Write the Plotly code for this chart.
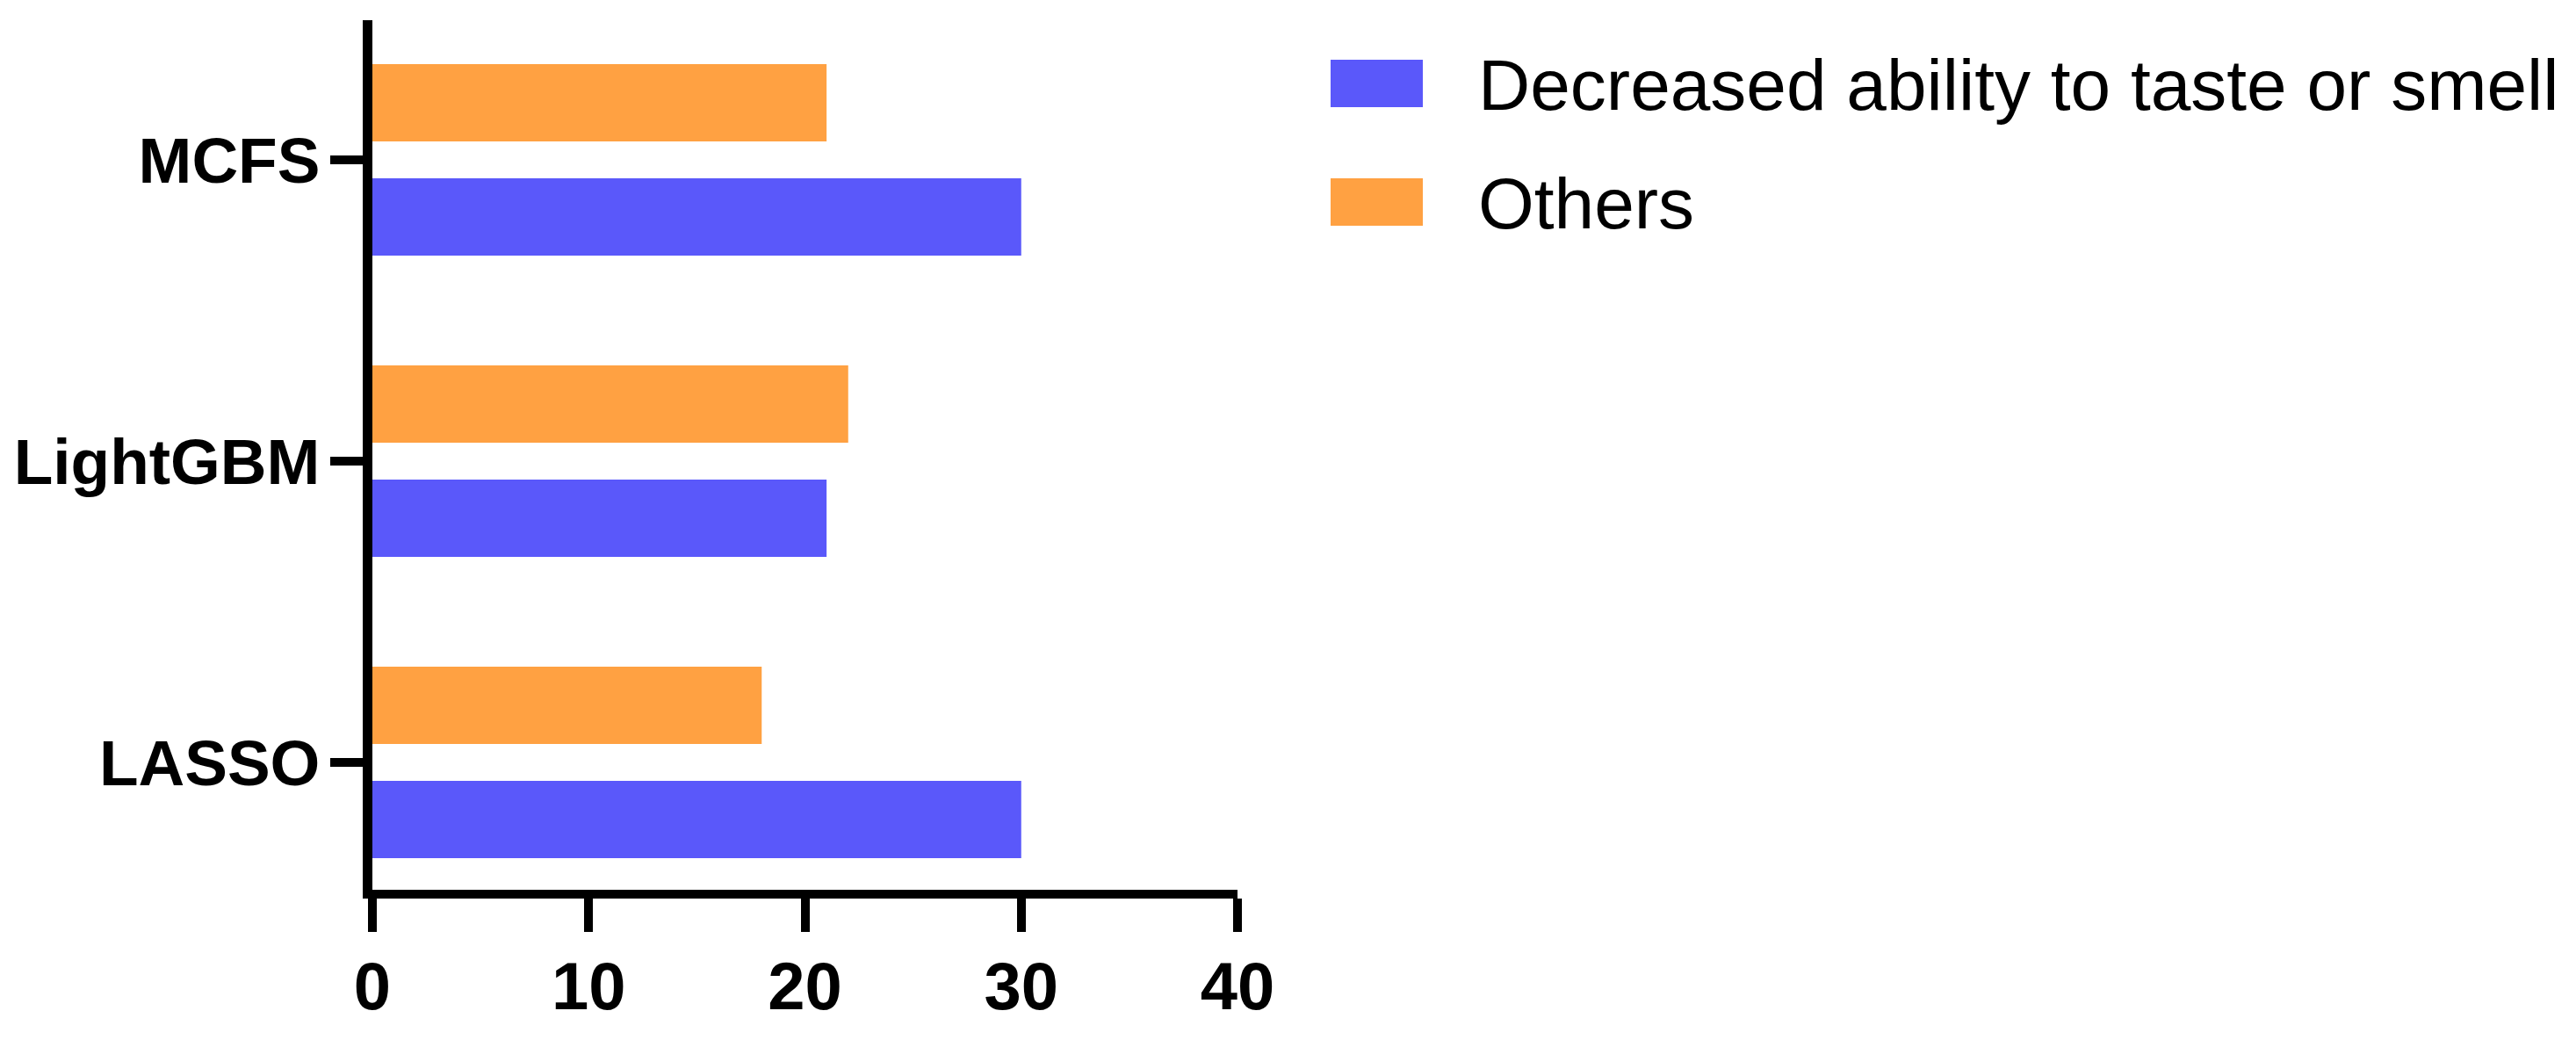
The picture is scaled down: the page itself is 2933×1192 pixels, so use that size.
import plotly.graph_objects as go

# ---- data ----
categories = ["LASSO", "LightGBM", "MCFS"]
series_names = ["Decreased ability to taste or smell", "Others"]
decreased_values = [30, 21, 30]
others_values = [18, 22, 21]
x_tick_values = [0, 10, 20, 30, 40]
x_tick_labels = ["0", "10", "20", "30", "40"]

BLUE = "#5A58FA"
ORANGE = "#FFA142"
FONT = "Liberation Sans, Arial, sans-serif"

fig = go.Figure()
fig.add_trace(go.Bar(y=categories, x=decreased_values, orientation="h",
                     name=series_names[0], marker=dict(color=BLUE, line=dict(width=0))))
fig.add_trace(go.Bar(y=categories, x=others_values, orientation="h",
                     name=series_names[1], marker=dict(color=ORANGE, line=dict(width=0))))

OFF = 8  # page body margin of the html page
W, H = 2933 - OFF, 1192 - OFF
# plot area in screen pixels
SL, SR, ST, SB = 424, 1409, 23, 1013
L, T = SL - OFF, ST - OFF
R, B = W - (SR - OFF), H - (SB - OFF)
pw, ph = SR - SL, SB - ST

def px_to_paper(x, y):
    # screen pixel -> paper fraction
    return (x - SL) / pw, (SB - y) / ph

# manual legend (large swatches like the original)
legend_rows = [(series_names[0], BLUE, 95), (series_names[1], ORANGE, 230)]
for name, color, cy in legend_rows:
    x0, ytop = px_to_paper(1515, cy - 27)
    x1, ybot = px_to_paper(1620, cy + 27)
    fig.add_shape(type="rect", xref="paper", yref="paper", x0=x0, x1=x1, y0=ybot, y1=ytop,
                  fillcolor=color, line=dict(width=0))
    tx, ty = px_to_paper(1681, cy + 1)
    fig.add_annotation(xref="paper", yref="paper", x=tx, y=ty, text=name, showarrow=False,
                       xanchor="left", yanchor="middle",
                       font=dict(family=FONT, size=82, color="black"))

fig.update_layout(
    width=W, height=H,
    margin=dict(l=L, r=R, t=T, b=B, pad=0),
    paper_bgcolor="white", plot_bgcolor="white",
    barmode="group", bargap=0.242, bargroupgap=0.323,
    showlegend=False,
    font=dict(family=FONT, color="black"),
)
fig.update_xaxes(
    automargin=False,
    range=[0, 40], tickvals=x_tick_values, ticktext=x_tick_labels,
    showgrid=False, zeroline=False, showline=True, linewidth=10, linecolor="black",
    ticks="outside", ticklen=38, tickwidth=10, tickcolor="black",
    ticklabelstandoff=-3,
    tickfont=dict(family=FONT, size=76, color="black", weight="bold"),
)
fig.update_yaxes(
    automargin=False,
    type="category", categoryorder="array", categoryarray=categories,
    range=[-0.4227, 2.4636],
    showgrid=False, zeroline=False, showline=True, linewidth=11, linecolor="black",
    ticks="outside", ticklen=37, tickwidth=10, tickcolor="black",
    ticklabelstandoff=-3,
    tickfont=dict(family=FONT, size=73, color="black", weight="bold"),
)

fig.write_html("out.html")
